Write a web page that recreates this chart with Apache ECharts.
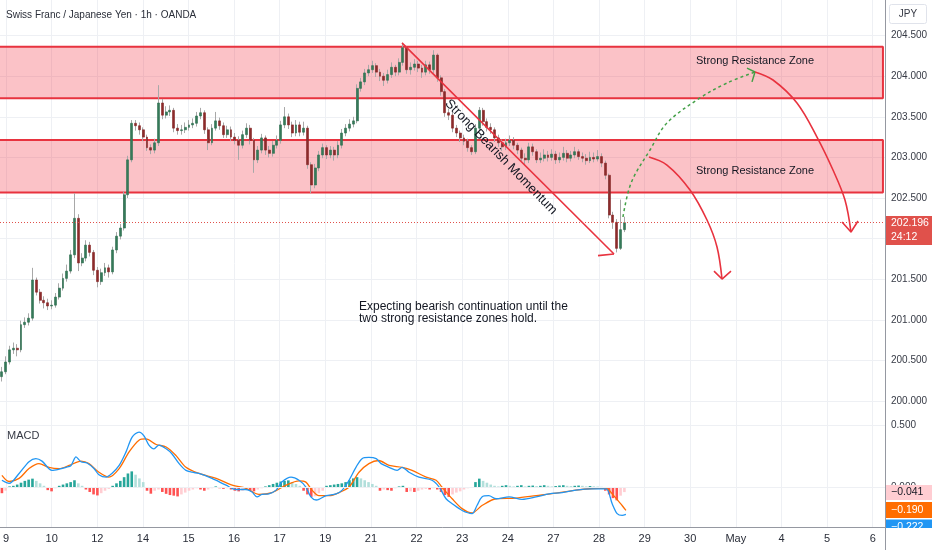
<!DOCTYPE html>
<html><head><meta charset="utf-8">
<script src="https://cdn.jsdelivr.net/npm/echarts@6/dist/echarts.min.js"></script>
<style>html,body{margin:0;padding:0;background:#fff}#c{width:932px;height:550px}</style>
</head><body><div id="c"></div>
<script>
// ---------- data ----------
const dayLabels = ['9','10','12','14','15','16','17','19','21','22','23','24','27','28','29','30','May','4','5','6'];
const barsPerDay = 12;
const slotCount = 232;
const firstOpen = 200.30;
const closes = [200.36,200.48,200.63,200.65,200.63,200.94,200.97,201.02,201.49,201.34,
 201.24,201.21,201.17,201.18,201.28,201.39,201.51,201.60,201.80,202.25,
 201.70,201.76,201.92,201.83,201.61,201.47,201.58,201.64,201.59,201.86,
 202.03,202.13,202.54,202.97,203.42,203.39,203.34,203.25,203.12,203.09,
 203.18,203.67,203.52,203.56,203.58,203.36,203.33,203.34,203.37,203.40,
 203.42,203.51,203.55,203.34,203.18,203.36,203.45,203.39,203.28,203.34,
 203.25,203.21,203.15,203.28,203.36,203.21,202.97,203.09,203.24,203.09,
 203.05,203.15,203.21,203.40,203.50,203.40,203.30,203.40,203.31,203.36,
 202.91,202.66,202.87,203.03,203.12,203.03,203.09,203.03,203.15,203.30,
 203.36,203.41,203.45,203.85,203.93,204.04,204.08,204.13,204.05,204.00,
 203.95,204.02,204.11,204.05,204.17,204.35,204.08,204.11,204.15,204.10,
 204.05,204.14,204.08,204.26,203.98,203.81,203.55,203.52,203.36,203.30,
 203.24,203.20,203.12,203.07,203.36,203.58,203.44,203.37,203.34,203.24,
 203.18,203.13,203.18,203.21,203.15,203.09,202.99,202.97,203.13,203.07,
 202.97,202.99,203.03,203.00,203.04,202.97,203.00,203.05,202.99,203.03,
 203.07,203.01,202.99,202.96,203.00,202.98,203.01,202.93,202.78,202.29,
 202.20,201.88,202.11,202.196];
const highs = [200.42,200.55,200.68,200.72,200.70,200.99,201.03,201.08,201.64,201.52,
 201.38,201.29,201.26,201.24,201.33,201.45,201.57,201.68,201.86,202.56,
 202.30,201.82,201.98,201.96,201.86,201.65,201.63,201.70,201.68,201.90,
 202.08,202.18,202.58,203.02,203.46,203.46,203.43,203.37,203.28,203.16,
 203.23,203.89,203.72,203.63,203.64,203.61,203.41,203.40,203.43,203.46,
 203.48,203.56,203.61,203.58,203.37,203.41,203.56,203.49,203.43,203.39,
 203.38,203.30,203.26,203.33,203.42,203.40,203.24,203.14,203.29,203.27,
 203.14,203.20,203.27,203.45,203.62,203.54,203.44,203.46,203.44,203.44,
 203.39,202.94,202.92,203.08,203.17,203.15,203.14,203.13,203.20,203.35,
 203.41,203.47,203.50,203.90,203.98,204.09,204.14,204.19,204.16,204.09,
 204.04,204.08,204.17,204.14,204.22,204.41,204.37,204.17,204.21,204.19,
 204.14,204.19,204.18,204.32,204.28,204.01,203.84,203.60,203.55,203.40,
 203.33,203.28,203.23,203.15,203.41,203.62,203.61,203.48,203.42,203.37,
 203.28,203.22,203.23,203.27,203.25,203.18,203.12,203.05,203.18,203.17,
 203.10,203.06,203.10,203.08,203.10,203.08,203.06,203.13,203.09,203.08,
 203.13,203.10,203.06,203.04,203.07,203.06,203.09,203.05,202.96,202.80,
 202.33,202.24,202.48,202.27];
const lows = [200.24,200.33,200.45,200.58,200.55,200.60,200.90,200.93,200.99,201.30,
 201.20,201.14,201.12,201.13,201.15,201.25,201.36,201.47,201.57,201.76,
 201.60,201.66,201.72,201.78,201.55,201.40,201.43,201.54,201.52,201.56,
 201.82,201.99,202.10,202.50,202.94,203.33,203.28,203.20,203.08,203.04,
 203.05,203.14,203.47,203.48,203.51,203.31,203.28,203.28,203.30,203.33,
 203.36,203.38,203.47,203.29,203.09,203.15,203.33,203.34,203.24,203.24,
 203.20,203.16,202.97,203.11,203.24,203.16,202.81,202.93,203.05,203.03,
 203.00,203.01,203.11,203.17,203.36,203.35,203.25,203.26,203.26,203.27,
 202.86,202.56,202.62,202.83,202.99,202.98,202.99,202.96,202.99,203.11,
 203.26,203.32,203.37,203.42,203.81,203.89,204.00,204.04,203.99,203.94,
 203.88,203.91,203.98,204.00,204.01,204.13,204.03,204.02,204.07,204.05,
 203.98,204.01,204.03,204.04,203.93,203.76,203.50,203.46,203.31,203.25,
 203.19,203.15,203.07,203.03,203.04,203.33,203.39,203.32,203.29,203.19,
 203.13,203.08,203.09,203.14,203.10,203.04,202.95,202.91,202.93,203.02,
 202.93,202.93,202.95,202.95,202.96,202.92,202.93,202.96,202.94,202.95,
 202.99,202.97,202.94,202.91,202.93,202.94,202.95,202.88,202.73,202.25,
 202.12,201.83,201.86,202.08];

const macdIdx = [0,1.9,4.5,7.1,8.9,10.5,13.1,15.0,16.8,18.1,19.4,20.7,22.3,24.1,25.4,27.3,28.8,30.7,32.5,34.1,35.9,37.2,38.5,39.8,41.1,43.0,44.5,46.4,48.2,49.8,51.6,55.0,58.7,61.3,63.9,65.5,66.8,68.1,69.9,71.8,73.3,75.7,77.8,79.6,80.9,82.3,83.0,84.9,87.5,89.1,90.9,92.7,94.3,96.1,98.0,99.3,101.4,103.5,104.8,106.6,109.2,112.6,114.5,116.3,117.9,120.5,123.1,124.4,125.7,127.5,129.4,132.8,136.2,139.9,143.3,146.7,150.3,154.5,158.2,159.8,161.1,162.4,163.4];
const macdVal = [0.055,0.03,0.11,0.205,0.23,0.21,0.135,0.145,0.16,0.175,0.245,0.205,0.195,0.15,0.10,0.08,0.11,0.175,0.285,0.405,0.445,0.415,0.34,0.31,0.34,0.31,0.27,0.19,0.135,0.12,0.11,0.07,0.015,-0.02,-0.02,-0.04,-0.08,-0.06,-0.055,-0.025,0.04,0.08,0.055,0,-0.08,-0.105,-0.10,-0.07,-0.055,-0.025,0.055,0.16,0.23,0.24,0.23,0.19,0.16,0.135,0.16,0.12,0.08,0.055,0,-0.095,-0.135,-0.19,-0.215,-0.15,-0.08,-0.07,-0.095,-0.08,-0.10,-0.08,-0.055,-0.045,-0.025,-0.015,-0.015,-0.135,-0.215,-0.23,-0.222];
const signalIdx = [0,1.9,4.5,7.1,9.7,12.3,15.0,17.6,20.7,22.8,25.4,28.0,30.7,33.3,35.9,37.7,40.4,43.0,45.6,48.2,51.6,56.1,60.3,63.9,67.3,70.7,74.4,77.8,79.6,81.2,83.0,85.7,88.3,90.9,93.5,96.1,98.7,101.4,104.8,107.4,111.1,113.7,115.2,117.9,120.5,123.1,125.7,129.4,134.6,139.9,145.1,150.3,156.3,158.2,159.8,162.4,163.4];
const signalVal = [0.095,0.045,0.07,0.15,0.19,0.16,0.15,0.175,0.21,0.19,0.12,0.08,0.15,0.285,0.38,0.39,0.345,0.325,0.255,0.16,0.11,0.07,0.015,-0.01,-0.06,-0.045,0.015,0.05,0.04,-0.025,-0.07,-0.07,-0.045,0,0.12,0.19,0.215,0.175,0.16,0.135,0.08,0.055,0,-0.095,-0.175,-0.21,-0.15,-0.095,-0.09,-0.07,-0.05,-0.025,-0.01,-0.01,-0.055,-0.15,-0.19];
const histVals = [-0.05,-0.03, 0.005,0.01, 0.02,0.035,0.05,0.06,0.068, 0.05,0.03, 0.01, -0.025,-0.035, -0.01,
 0.01,0.02,0.03,0.04,0.055, 0.03,0.01, -0.02,-0.04,-0.06,-0.068,-0.05, -0.03,-0.015,
 0.01,0.03,0.05,0.08,0.11,0.127, 0.1,0.07,0.04, -0.03,-0.054,-0.03,
 -0.02,-0.04,-0.055,-0.065,-0.07,-0.076, -0.06,-0.045,-0.03,-0.02,-0.01, -0.02,-0.03,-0.02,
 -0.01,0.005,-0.01,-0.015,-0.01,-0.02,-0.03, -0.035,-0.03,-0.02,-0.03,-0.035, -0.02,-0.01,
 0.005,0.015,0.025,0.035,0.045,0.05,0.054, 0.04,0.025,0.01, -0.03,-0.06,-0.08,-0.075,-0.05, -0.03,
 0.01,0.015,0.02,0.025,0.03,0.04, 0.055,0.07,0.08,0.07, 0.055,0.04,0.025,0.01,
 -0.03,-0.02,-0.025,-0.03,-0.01, 0.005,0.01, -0.04,-0.035,-0.04,-0.03,
 -0.02,-0.015,-0.02,-0.01,-0.02,-0.04, -0.065,-0.08, -0.06,-0.045,-0.035,-0.02,-0.01,-0.005,
 0.04,0.068, 0.05,0.035,0.02,0.01,
 0.005,0.01,0.015,0.01,0.005,0.01,0.015,0.005,0.01,0.012,0.008,0.01,0.015,0.01,0.005,0.008,0.012,0.015,0.01,0.008,0.01,0.012,0.01,0.005,0.008,0.006,0.004,0.002,
 -0.03,-0.06,-0.09,-0.108,-0.07,-0.041];

// annotations (bar-index, price)
const zoneUpper = [203.728, 204.363];
const zoneLower = [202.568, 203.214];
const zoneRightIdx = 230.7;
const lastPrice = 202.196;
const momentumLine = [[104.76,204.41],[160.28,201.81]];
const momentumHead = [[156.09,201.79],[160.28,201.81]];
const greenPath = [[162.63,202.266],[164.75,202.685],[169.70,203.091],[174.15,203.424],[182.80,203.732],[189.87,203.916],[197.20,204.052]];
const greenHead = [[195.10,204.10],[197.20,204.052],[196.41,203.93]];
const redPathA = [[169.44,203.005],[174.15,202.906],[180.18,202.599],[184.63,202.229],[187.25,201.897],[188.56,201.502]];
const redHeadA = [[186.46,201.60],[188.56,201.502],[190.91,201.60]];
const redPathB = [[197.20,204.052],[201.91,203.953],[208.19,203.670],[213.43,203.251],[217.62,202.845],[220.76,202.475],[222.33,202.081]];
const redHeadB = [[219.98,202.204],[222.33,202.081],[224.17,202.217]];

// ---------- build ----------
const FONT = 'Liberation Sans';
const cats = Array.from({length: slotCount}, (_, i) => String(i));
const opens = closes.map((c, i) => i === 0 ? firstOpen : closes[i - 1]);
const wickData = closes.map((c, i) => [opens[i], c, lows[i], highs[i]]);
const bodyData = closes.map((c, i) => [opens[i], c, Math.min(opens[i], c), Math.max(opens[i], c)]);
const histData = histVals.map((v, i) => {
  const p = i ? histVals[i - 1] : 0;
  let col;
  if (v >= 0) col = v >= p ? '#26a69a' : '#b2dfdb';
  else col = v <= p ? '#ff5252' : '#ffcdd2';
  return {value: v, itemStyle: {color: col}};
});
const pts = (xs, ys) => xs.map((x, k) => [x, ys[k]]);
const RED = '#e8333f';
const zoneBox = (z) => [[-0.5, z[1]], [zoneRightIdx, z[1]], [zoneRightIdx, z[0]], [-0.5, z[0]]];
const annoLine = (data, color, opts) => Object.assign({
  type: 'line', xAxisIndex: 2, yAxisIndex: 1, data, symbol: 'none', silent: true, z: 6,
  lineStyle: {color, width: 1.6}
}, opts || {});

const chart = echarts.init(document.getElementById('c'));
chart.setOption({
  animation: false,
  textStyle: {fontFamily: FONT},
  grid: [
    {left: 1.91, top: 0, width: 231 * 886 / 232, height: 527},
    {left: 0, top: 401 - 4.5 * 81.2, width: 886, height: 4.5 * 81.2},
    {left: 0, top: 415, width: 886, height: 112}
  ],
  xAxis: [
    {type: 'category', gridIndex: 0, data: cats, boundaryGap: false,
     axisLine: {show: false}, axisTick: {show: false},
     axisLabel: {interval: (i) => i % barsPerDay === 0, formatter: (v, i) => dayLabels[i / barsPerDay] || '',
                 color: '#2a2e39', fontSize: 11, margin: 6, fontFamily: FONT},
     splitLine: {show: true, interval: (i) => i % barsPerDay === 0, lineStyle: {color: '#eef0f4', width: 1}}},
    {type: 'category', gridIndex: 1, data: cats, boundaryGap: true, show: false},
    {type: 'value', gridIndex: 1, min: -0.5, max: slotCount - 0.5, show: false},
    {type: 'category', gridIndex: 2, data: cats, boundaryGap: true, show: false},
    {type: 'value', gridIndex: 2, min: -0.5, max: slotCount - 0.5, show: false}
  ],
  yAxis: [
    {type: 'value', gridIndex: 0, min: 0, max: 1, show: false},
    {type: 'value', gridIndex: 1, position: 'right', min: 200, max: 204.5, interval: 0.5,
     axisLine: {show: false}, axisTick: {show: false},
     axisLabel: {formatter: (v) => v.toFixed(3), color: '#363a45', fontSize: 10, margin: 5, fontFamily: FONT},
     splitLine: {lineStyle: {color: '#eef0f4', width: 1}}},
    {type: 'value', gridIndex: 2, min: -0.324, max: 0.584, show: false}
  ],
  series: [
    // zones
    {type: 'line', xAxisIndex: 2, yAxisIndex: 1, data: zoneBox(zoneUpper), symbol: 'none', silent: true, z: 2,
     lineStyle: {color: RED, width: 2},
     markArea: {silent: true, itemStyle: {color: 'rgba(242,54,69,0.3)'},
       data: [[{coord: [-0.5, zoneUpper[1]]}, {coord: [zoneRightIdx, zoneUpper[0]]}],
              [{coord: [-0.5, zoneLower[1]]}, {coord: [zoneRightIdx, zoneLower[0]]}]]}},
    {type: 'line', xAxisIndex: 2, yAxisIndex: 1, data: zoneBox(zoneLower), symbol: 'none', silent: true, z: 2,
     lineStyle: {color: RED, width: 2}},
    // wicks
    {type: 'candlestick', xAxisIndex: 1, yAxisIndex: 1, data: wickData, barWidth: 1, z: 3, silent: true,
     itemStyle: {color: '#a8a8a8', color0: '#a8a8a8', borderColor: '#a8a8a8', borderColor0: '#a8a8a8', borderWidth: 1}},
    // bodies
    {type: 'candlestick', xAxisIndex: 1, yAxisIndex: 1, data: bodyData, barWidth: 2.4, z: 4, silent: true,
     itemStyle: {color: '#357a59', color0: '#8c2b2b', borderColor: '#2f6e50', borderColor0: '#862727', borderWidth: 0.6},
     markLine: {silent: true, symbol: 'none', label: {show: false},
       lineStyle: {color: '#e0514b', type: [1, 2], width: 1}, data: [{yAxis: lastPrice}]}},
    // annotations
    annoLine(momentumLine, RED),
    annoLine(momentumHead, RED),
    annoLine(greenPath, '#43a047', {smooth: 0.35, lineStyle: {color: '#43a047', width: 1.5, type: [3, 3]}}),
    annoLine(greenHead, '#43a047', {lineStyle: {color: '#43a047', width: 1.5}}),
    annoLine(redPathA, RED, {smooth: 0.35}),
    annoLine(redHeadA, RED),
    annoLine(redPathB, RED, {smooth: 0.35}),
    annoLine(redHeadB, RED),
    // MACD
    {type: 'bar', xAxisIndex: 3, yAxisIndex: 2, data: histData, barWidth: 2.6, silent: true, z: 2,
     markLine: {silent: true, symbol: 'none',
       lineStyle: {color: '#eef0f4', type: 'solid', width: 1},
       label: {position: 'end', distance: 5, color: '#363a45', fontSize: 10, fontFamily: FONT,
               formatter: (p) => Number(p.value).toFixed(3)},
       data: [{yAxis: 0.5}, {yAxis: 0}]}},
    {type: 'line', xAxisIndex: 4, yAxisIndex: 2, data: pts(signalIdx, signalVal), smooth: 0.3,
     symbol: 'none', silent: true, z: 3, lineStyle: {color: '#ff6d00', width: 1.3}},
    {type: 'line', xAxisIndex: 4, yAxisIndex: 2, data: pts(macdIdx, macdVal), smooth: 0.3,
     symbol: 'none', silent: true, z: 4, lineStyle: {color: '#2196f3', width: 1.3}}
  ],
  graphic: [
    {type: 'text', x: 6, y: 15, z: 100, style: {text: 'Swiss Franc / Japanese Yen · 1h · OANDA', fill: '#2a2e39',
      font: '10px "Liberation Sans"', verticalAlign: 'middle'}},
    {type: 'rect', z: 100, shape: {x: 889.5, y: 4.5, width: 37, height: 19, r: 2}, style: {fill: '#fff', stroke: '#e0e3eb'}},
    {type: 'text', x: 908, y: 14.5, z: 101, style: {text: 'JPY', fill: '#363a45', font: '10px "Liberation Sans"', align: 'center', verticalAlign: 'middle'}},
    {type: 'text', x: 696, y: 61, z: 100, style: {text: 'Strong Resistance Zone', fill: '#131722', font: '11px "Liberation Sans"', verticalAlign: 'middle'}},
    {type: 'text', x: 696, y: 171, z: 100, style: {text: 'Strong Resistance Zone', fill: '#131722', font: '11px "Liberation Sans"', verticalAlign: 'middle'}},
    {type: 'text', x: 359, y: 301, z: 100, style: {text: 'Expecting bearish continuation until the\ntwo strong resistance zones hold.', fill: '#131722', font: '12px "Liberation Sans"', lineHeight: 12}},
    {type: 'text', x: 501, y: 157, rotation: -0.80, z: 100, style: {text: 'Strong Bearish Momentum', fill: '#131722', font: '13px "Liberation Sans"', align: 'center', verticalAlign: 'middle'}},
    {type: 'text', x: 7, y: 436, z: 100, style: {text: 'MACD', fill: '#363a45', font: '11px "Liberation Sans"', verticalAlign: 'middle'}},
    // price scale frame
    {type: 'line', z: 100, shape: {x1: 885.5, y1: 0, x2: 885.5, y2: 550}, style: {stroke: '#9598a1', lineWidth: 1}},
    {type: 'line', z: 100, shape: {x1: 0, y1: 527.5, x2: 885.5, y2: 527.5}, style: {stroke: '#9598a1', lineWidth: 1}},
    // last price tag
    {type: 'rect', z: 101, shape: {x: 886, y: 216, width: 46, height: 29}, style: {fill: '#e0514b'}},
    {type: 'text', x: 891, y: 223.5, z: 102, style: {text: '202.196', fill: '#fff', font: '10.5px "Liberation Sans"', verticalAlign: 'middle'}},
    {type: 'text', x: 891, y: 237, z: 102, style: {text: '24:12', fill: '#fff', font: '10.5px "Liberation Sans"', verticalAlign: 'middle'}},
    // macd tags
    {type: 'rect', z: 101, shape: {x: 886, y: 485, width: 46, height: 15}, style: {fill: '#ffcdd2'}},
    {type: 'text', x: 891, y: 492.5, z: 102, style: {text: '\u22120.041', fill: '#131722', font: '10.5px "Liberation Sans"', verticalAlign: 'middle'}},
    {type: 'rect', z: 101, shape: {x: 886, y: 502, width: 46, height: 16}, style: {fill: '#ff6d00'}},
    {type: 'text', x: 891, y: 510, z: 102, style: {text: '\u22120.190', fill: '#fff', font: '10.5px "Liberation Sans"', verticalAlign: 'middle'}},
    {type: 'rect', z: 101, shape: {x: 886, y: 519.5, width: 46, height: 16}, style: {fill: '#2196f3'}},
    {type: 'text', x: 891, y: 527, z: 102, style: {text: '\u22120.222', fill: '#fff', font: '10.5px "Liberation Sans"', verticalAlign: 'middle'}},
    {type: 'rect', z: 103, shape: {x: 886, y: 528, width: 46, height: 22}, style: {fill: '#fff'}}
  ]
});
</script></body></html>
